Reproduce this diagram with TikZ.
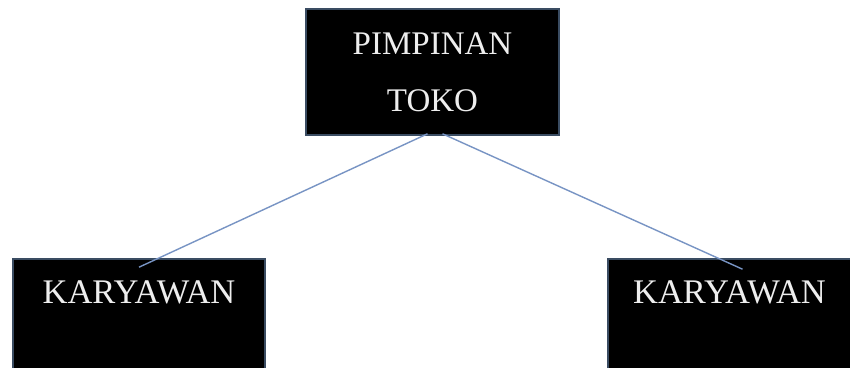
\documentclass[tikz,border=0pt]{standalone}
\usepackage{fontspec}
\setmainfont{Liberation Serif}
\usepackage{xcolor}
\definecolor{rim}{RGB}{58, 76, 98}
\definecolor{link}{RGB}{120, 148, 196}
\definecolor{ink}{RGB}{238, 238, 238}

\begin{document}
\begin{tikzpicture}[x=1pt, y=-1pt,
    jabatan/.style={draw=rim, line width=1.6pt, fill=black, text=ink,
      font=\fontsize{33}{57}\selectfont, inner sep=0pt},
    staf/.style={jabatan, minimum height=111, font=\fontsize{34.5}{40}\selectfont,
      text height=23pt, text depth=46pt},
    garis/.style={color=link, line width=1.4pt}]
      \useasboundingbox (0, 0) rectangle (850, 367);
      \fill[white] (0, 0) rectangle (850, 367);
      \node[jabatan, align=center, minimum width=253, minimum height=126]
        (pimpinan) at (432.5, 72) {PIMPINAN\\TOKO};
      \node[staf, minimum width=252] (karyawanA) at (139, 314.5) {KARYAWAN};
      \node[staf, minimum width=243] (karyawanB) at (729.5, 314.5) {KARYAWAN};
      \draw[garis] ([xshift=-5pt, yshift=2pt]pimpinan.south) -- ([yshift=-9pt]karyawanA.north);
      \draw[garis] ([xshift=10pt, yshift=2pt]pimpinan.south) -- ([xshift=13pt, yshift=-11pt]karyawanB.north);
    \end{tikzpicture}
\end{document}
